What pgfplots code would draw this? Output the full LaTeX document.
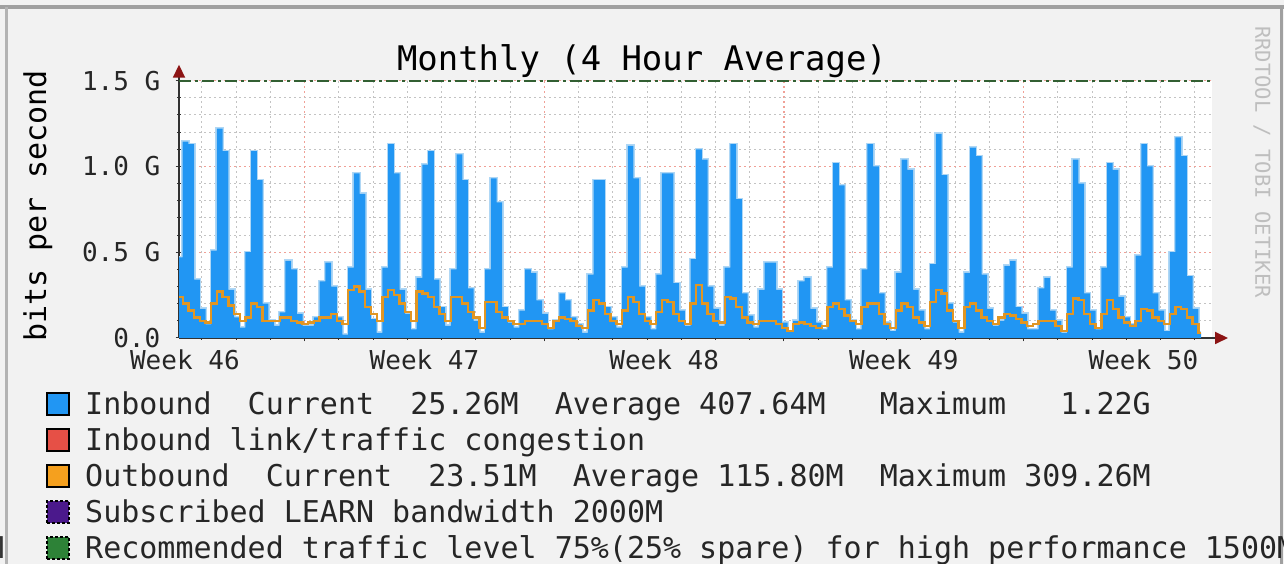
\documentclass[border=0pt]{standalone}
\usepackage{pgfplots}
\pgfplotsset{compat=1.18}
\usepackage{pgfplotstable}
\usepackage{fontspec}
\setmainfont{DejaVu Sans Mono}
\usetikzlibrary{arrows.meta}
\definecolor{bgc}{RGB}{242,242,242}
\definecolor{inblue}{RGB}{33,150,243}
\definecolor{halo}{RGB}{175,215,245}
\definecolor{outorange}{RGB}{225,150,35}
\definecolor{legorange}{RGB}{245,160,30}
\definecolor{congred}{RGB}{230,80,70}
\definecolor{subpurple}{RGB}{75,25,140}
\definecolor{recgreen}{RGB}{45,130,55}
\definecolor{recline}{RGB}{50,95,50}
\definecolor{axisc}{RGB}{50,50,50}
\definecolor{arrowc}{RGB}{140,20,20}
\definecolor{mingrid}{RGB}{195,195,195}
\definecolor{majgrid}{RGB}{240,160,150}
\definecolor{framec}{RGB}{160,160,160}
\definecolor{wmark}{RGB}{190,190,190}

\pgfplotstableread{
x in out
-0.65 0.47 0.24
0 1.145 0.20
1 1.13 0.16
2 0.34 0.12
3 0.17 0.10
4 0.08 0.09
5 0.51 0.20
6 1.22 0.27
7 1.09 0.24
8 0.28 0.19
9 0.12 0.14
10 0.06 0.10
11 0.50 0.12
12 1.09 0.20
13 0.92 0.18
14 0.20 0.10
15 0.10 0.10
16 0.07 0.10
17 0.15 0.12
18 0.45 0.12
19 0.40 0.10
20 0.14 0.09
21 0.07 0.08
22 0.07 0.09
23 0.12 0.10
24 0.33 0.12
25 0.44 0.12
26 0.30 0.14
27 0.12 0.10
28 0.02 0.08
29 0.41 0.28
30 0.96 0.30
31 0.84 0.27
32 0.28 0.18
33 0.11 0.14
34 0.03 0.10
35 0.41 0.24
36 1.13 0.28
37 0.96 0.25
38 0.28 0.20
39 0.14 0.15
40 0.05 0.10
41 0.35 0.27
42 1.01 0.26
43 1.09 0.24
44 0.34 0.18
45 0.18 0.14
46 0.07 0.10
47 0.40 0.24
48 1.07 0.24
49 0.92 0.20
50 0.29 0.15
51 0.10 0.12
52 0.03 0.06
53 0.40 0.21
54 0.93 0.21
55 0.79 0.15
56 0.18 0.12
57 0.09 0.10
58 0.06 0.08
59 0.16 0.08
60 0.40 0.10
61 0.38 0.10
62 0.22 0.10
63 0.14 0.08
64 0.05 0.06
65 0.10 0.10
66 0.26 0.12
67 0.22 0.11
68 0.12 0.10
69 0.08 0.07
70 0.03 0.06
71 0.37 0.16
72 0.92 0.22
73 0.92 0.20
74 0.18 0.14
75 0.12 0.10
76 0.06 0.08
77 0.41 0.16
78 1.12 0.24
79 0.93 0.21
80 0.30 0.14
81 0.12 0.10
82 0.05 0.08
83 0.37 0.15
84 0.96 0.22
85 0.96 0.21
86 0.32 0.14
87 0.16 0.10
88 0.07 0.08
89 0.46 0.20
90 1.10 0.31
91 1.04 0.20
92 0.30 0.14
93 0.17 0.10
94 0.07 0.09
95 0.41 0.24
96 1.13 0.23
97 0.81 0.18
98 0.26 0.12
99 0.13 0.09
100 0.06 0.08
101 0.28 0.10
102 0.44 0.10
103 0.44 0.10
104 0.28 0.08
105 0.09 0.06
106 0.04 0.04
107 0.10 0.08
108 0.33 0.09
109 0.35 0.08
110 0.17 0.07
111 0.09 0.06
112 0.05 0.07
113 0.41 0.18
114 1.02 0.20
115 0.89 0.17
116 0.22 0.13
117 0.10 0.10
118 0.05 0.08
119 0.40 0.18
120 1.13 0.20
121 1.00 0.20
122 0.26 0.14
123 0.09 0.08
124 0.04 0.06
125 0.38 0.16
126 1.04 0.20
127 0.98 0.18
128 0.28 0.12
129 0.16 0.09
130 0.05 0.07
131 0.43 0.21
132 1.19 0.28
133 0.95 0.26
134 0.20 0.16
135 0.09 0.10
136 0.03 0.06
137 0.38 0.18
138 1.11 0.20
139 1.06 0.16
140 0.37 0.12
141 0.17 0.10
142 0.07 0.08
143 0.10 0.12
144 0.42 0.14
145 0.45 0.13
146 0.18 0.11
147 0.14 0.09
148 0.05 0.07
149 0.05 0.08
150 0.29 0.10
151 0.35 0.10
152 0.16 0.10
153 0.10 0.07
154 0.03 0.04
155 0.41 0.14
156 1.04 0.23
157 0.90 0.22
158 0.26 0.14
159 0.16 0.08
160 0.05 0.06
161 0.41 0.14
162 1.02 0.22
163 0.98 0.17
164 0.24 0.12
165 0.12 0.09
166 0.08 0.07
167 0.48 0.10
168 1.13 0.17
169 1.00 0.16
170 0.26 0.12
171 0.16 0.10
172 0.04 0.08
173 0.50 0.14
174 1.17 0.18
175 1.06 0.17
176 0.36 0.12
177 0.17 0.08
178 0.03 0.03
178.5 0.03 0.03
}\traffic

\begin{document}
\begin{tikzpicture}[x=1pt,y=1pt]
\fill[bgc] (0,0) rectangle (1284,564);
\path[use as bounding box] (0,0) rectangle (1284,564);
% frame
\draw[framec, line width=4pt] (0,557) -- (1284,557);
\draw[framec!80, line width=3pt] (6,0) -- (6,557);
\draw[framec, line width=3pt] (1281.5,0) -- (1281.5,557);
\node[anchor=base east, inner sep=0pt, font=\fontsize{30}{36}\selectfont, text=black!80] at (4.5,5) {M};

\begin{axis}[
  at={(179pt,226pt)}, anchor=south west,
  scale only axis, width=1033pt, height=257.3pt,
  xmin=-0.65, xmax=180.4, ymin=0, ymax=1.5,
  axis x line=bottom, axis y line=left,
  axis background/.style={fill=white},
  axis line style={draw=axisc, line width=1.8pt, shorten >=-16pt, -{Triangle[length=13pt,width=12pt,color=arrowc]}},
  xtick={21.38,63.38,105.38,147.38},
  xticklabels={,,,},
  minor xtick={3.38,9.38,15.38,27.38,33.38,39.38,45.38,51.38,57.38,69.38,75.38,81.38,87.38,93.38,99.38,111.38,117.38,123.38,129.38,135.38,141.38,153.38,159.38,165.38,171.38,177.38},
  extra x ticks={0.38,42.38,84.38,126.38,168.38},
  extra x tick labels={Week 46,Week 47,Week 48,Week 49,Week 50},
  extra x tick style={grid=none, major tick length=0pt},
  ytick={0,0.5,1,1.5},
  yticklabels={0.0,0.5 G,1.0 G,1.5 G},
  minor ytick={0.1,0.2,0.3,0.4,0.6,0.7,0.8,0.9,1.1,1.2,1.3,1.4},
  grid=both,
  major grid style={majgrid, line width=1.1pt, dash pattern=on 2pt off 3pt},
  minor grid style={mingrid, line width=1pt, dash pattern=on 2pt off 3pt},
  tick align=center,
  major tick length=7pt, minor tick length=4pt,
  tick style={axisc, line width=1pt},
  tick label style={font=\fontsize{26}{30}\selectfont, text=black!85},
  yticklabel style={anchor=east, inner sep=0pt, xshift=-15pt},
  xticklabel style={anchor=north, inner sep=0pt, yshift=-12pt},
]
\addplot[const plot, draw=halo, line width=3pt, forget plot] table[x=x,y=in]{\traffic};
\addplot[const plot, fill=inblue, draw=none] table[x=x,y=in]{\traffic} \closedcycle;
\addplot[const plot, draw=outorange, line width=2.4pt] table[x=x,y=out]{\traffic};
\addplot[recline, line width=1.8pt, dash pattern=on 12pt off 4pt on 3pt off 4pt] coordinates {(-0.65,1.5) (180.4,1.5)};
\end{axis}

% title, axis label, watermark
\node[anchor=base, inner sep=0pt, font=\fontsize{33.9}{40}\selectfont] at (642,493.6) {Monthly (4 Hour Average)};
\node[anchor=base, rotate=90, inner sep=0pt, font=\fontsize{30}{36}\selectfont] at (46,358) {bits per second};
\node[rotate=-90, inner sep=0pt, font=\fontsize{20.5}{24}\selectfont, text=wmark] at (1262,402) {RRDTOOL / TOBI OETIKER};

% legend
\foreach \cy/\col/\dash in {160/inblue/0, 124/congred/0, 88/legorange/0, 52/subpurple/1, 16/recgreen/1}{
  \ifnum\dash=0
    \filldraw[fill=\col, draw=black, line width=1.4pt] (47,\cy-11) rectangle (69,\cy+11);
  \else
    \filldraw[fill=\col, draw=black, line width=1.4pt, dash pattern=on 3pt off 2pt] (47,\cy-11) rectangle (69,\cy+11);
  \fi
}
\begin{scope}[every node/.style={anchor=base west, inner sep=0pt, font=\fontsize{30}{36}\selectfont, text=black!85}]
\node at (85,149) {Inbound~~Current~~25.26M~~Average~407.64M~~~Maximum~~~1.22G};
\node at (85,113) {Inbound link/traffic congestion};
\node at (85,77) {Outbound~~Current~~23.51M~~Average~115.80M~~Maximum~309.26M};
\node at (85,41) {Subscribed LEARN bandwidth 2000M};
\node at (85,5) {Recommended traffic level 75\%(25\% spare) for high performance 1500M};
\end{scope}
\end{tikzpicture}
\end{document}
